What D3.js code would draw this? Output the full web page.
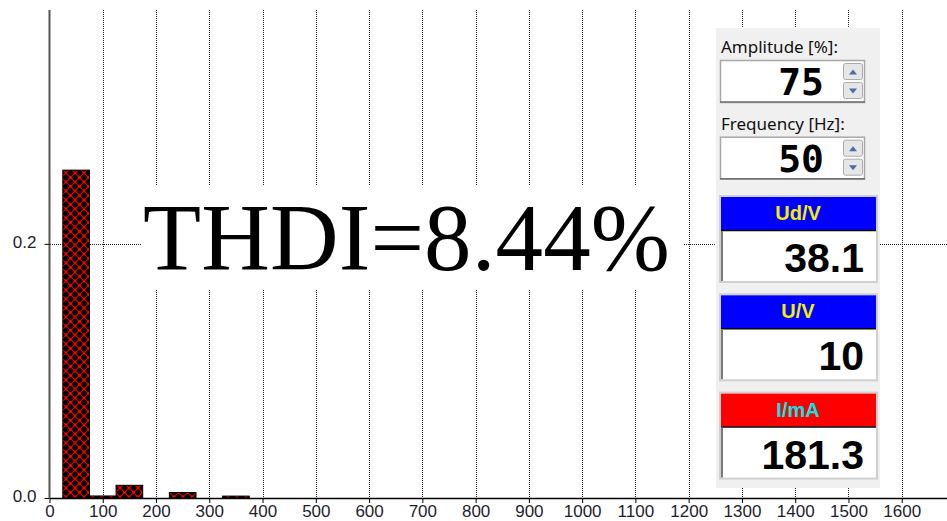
<!DOCTYPE html>
<html>
<head>
<meta charset="utf-8">
<script src="https://cdn.jsdelivr.net/npm/d3@7"></script>
<style>
  body { margin: 0; background: #fff; }
  svg { display: block; }
  .grid line { stroke: #222; stroke-dasharray: 1,1; }
</style>
</head>
<body>
<div id="chart"></div>
<script>
// harmonic spectrum data
const harmonicFreq = [50, 100, 150, 200, 250, 300, 350];
const harmonicAmp = [0.258, 0.0016, 0.010, 0.0, 0.0043, 0.0, 0.0015];
const xTickValues = [0, 100, 200, 300, 400, 500, 600, 700, 800, 900, 1000, 1100, 1200, 1300, 1400, 1500, 1600];
const yTickValues = [0, 0.2];
const thdiLabel = "THDI=8.44%";

// side panel
const controlLabels = ["Amplitude [%]:", "Frequency [Hz]:"];
const controlValues = ["75", "50"];
const meterNames = ["Ud/V", "U/V", "I/mA"];
const meterValues = ["38.1", "10", "181.3"];
const meterHeadColors = ["#0000ff", "#0000ff", "#ff0000"];
const meterNameColors = ["#f0f000", "#f0f000", "#00e8e8"];

(function () {
  const svg_width = 947, svg_height = 521;
  const x0 = 49.5, yBase = 498, yTop = 10;
  const labelFont = "'Liberation Sans', Arial, sans-serif";

  const x = d3.scaleLinear().domain([0, 1685]).range([x0, svg_width]);
  const y = d3.scaleLinear().domain([0, 0.384]).range([yBase, yTop]);
  const barHalf = 25;

  const svg = d3.select("#chart").append("svg")
    .attr("width", svg_width)
    .attr("height", svg_height);

  // hatch pattern for bars
  const pat = svg.append("defs").append("pattern")
    .attr("id", "xhatch")
    .attr("patternUnits", "userSpaceOnUse")
    .attr("x", 3).attr("y", 2)
    .attr("width", 9).attr("height", 9);
  pat.append("rect").attr("width", 9).attr("height", 9).attr("fill", "#000");
  pat.append("path").attr("d", "M0,0L9,9M9,0L0,9")
    .attr("stroke", "#e00000").attr("stroke-width", 1.2);
  [[4.5, 4.5], [0, 0], [9, 0], [0, 9], [9, 9]].forEach(p => {
    pat.append("circle").attr("cx", p[0]).attr("cy", p[1]).attr("r", 1.4).attr("fill", "#ff0000");
  });

  // vertical grid
  svg.append("g").attr("class", "grid")
    .selectAll("line")
    .data(xTickValues.filter(d => d > 0))
    .enter().append("line")
    .attr("x1", d => Math.round(x(d)) + 0.5).attr("x2", d => Math.round(x(d)) + 0.5)
    .attr("y1", yTop).attr("y2", yBase);

  // horizontal grid
  svg.append("g").attr("class", "grid")
    .selectAll("line")
    .data(yTickValues.filter(d => d > 0))
    .enter().append("line")
    .attr("x1", 50).attr("x2", svg_width)
    .attr("y1", d => Math.round(y(d)) + 0.5).attr("y2", d => Math.round(y(d)) + 0.5);

  // bars
  const bars = harmonicFreq.map((f, i) => ({ f: f, v: harmonicAmp[i] })).filter(d => d.v > 0);
  svg.selectAll(".bar")
    .data(bars)
    .enter().append("rect")
    .attr("class", "bar")
    .attr("x", d => x(d.f - barHalf))
    .attr("y", d => y(d.v))
    .attr("width", d => x(d.f + barHalf) - x(d.f - barHalf))
    .attr("height", d => yBase - y(d.v))
    .attr("fill", "url(#xhatch)")
    .attr("stroke", "#000")
    .attr("stroke-width", 1);

  // THDI label with white box
  svg.append("rect")
    .attr("x", 141).attr("y", 185).attr("width", 542).attr("height", 104)
    .attr("fill", "#fff");
  svg.append("text")
    .attr("x", 143).attr("y", 270)
    .attr("textLength", 527)
    .style("font-family", "'Liberation Serif', 'Times New Roman', serif")
    .style("font-size", "95px")
    .attr("fill", "#000")
    .text(thdiLabel);

  // x axis
  const xAxis = svg.append("g")
    .attr("transform", "translate(0," + yBase + ")")
    .call(d3.axisBottom(x).tickValues(xTickValues).tickSize(5).tickSizeOuter(0).tickFormat(d3.format("d")));
  xAxis.select(".domain").attr("stroke", "#000").attr("stroke-width", 1.5);
  xAxis.selectAll(".tick line").attr("stroke", "#000");
  xAxis.selectAll("text")
    .attr("dy", null).attr("y", 19)
    .attr("fill", "#1e1e2e")
    .style("font-family", labelFont)
    .style("font-size", "17px");

  // y axis
  const yAxis = svg.append("g")
    .attr("transform", "translate(" + x0 + ",0)")
    .call(d3.axisLeft(y).tickValues(yTickValues).tickSize(5).tickSizeOuter(0).tickFormat(d3.format(".1f")));
  yAxis.select(".domain").attr("stroke", "#555").attr("stroke-width", 2)
    .attr("d", "M0," + yTop + "V" + yBase);
  yAxis.selectAll(".tick line").attr("stroke", "#000");
  yAxis.selectAll("text")
    .attr("x", -13).attr("dy", "0.2em")
    .attr("fill", "#1e1e2e")
    .style("font-family", labelFont)
    .style("font-size", "17px");

  // side panel
  const panel = svg.append("g");
  panel.append("rect")
    .attr("x", 716).attr("y", 28).attr("width", 164).attr("height", 460)
    .attr("fill", "#f0f0f0");

  controlLabels.forEach((lab, i) => {
    const oy = i * 76.7;
    panel.append("text")
      .attr("x", 721).attr("y", 53 + oy)
      .style("font-family", "'Noto Sans', 'Segoe UI', sans-serif")
      .style("font-size", "17px")
      .attr("fill", "#111")
      .text(lab);
    panel.append("rect")
      .attr("x", 720.5).attr("y", 60.5 + oy).attr("width", 144).attr("height", 42)
      .attr("fill", "#fff").attr("stroke", "#a8a8a8").attr("stroke-width", 1.5);
    panel.append("line")
      .attr("x1", 720).attr("x2", 865).attr("y1", 102 + oy).attr("y2", 102 + oy)
      .attr("stroke", "#707070").attr("stroke-width", 1.5);
    panel.append("text")
      .attr("x", 824).attr("y", 95 + oy)
      .attr("text-anchor", "end")
      .style("font-family", "'DejaVu Sans Mono', monospace")
      .style("font-weight", "bold")
      .style("font-size", "38px")
      .attr("fill", "#000")
      .text(controlValues[i]);
    // spin buttons
    [[63, "M-4,3L4,3L0,-2Z"], [82, "M-4,-2L4,-2L0,3Z"]].forEach(b => {
      panel.append("rect")
        .attr("x", 843.5).attr("y", b[0] + oy + 0.5).attr("width", 19).attr("height", 16)
        .attr("rx", 2)
        .attr("fill", "#e6e6e6").attr("stroke", "#ababab");
      panel.append("path")
        .attr("transform", "translate(853," + (b[0] + oy + 8.5) + ")")
        .attr("d", b[1]).attr("fill", "#4a6aa8");
    });
  });

  meterNames.forEach((name, i) => {
    const oy = i * 98.3;
    panel.append("rect")
      .attr("x", 720).attr("y", 196 + oy).attr("width", 157).attr("height", 86)
      .attr("fill", "#fff").attr("stroke", "#cfcfcf").attr("stroke-width", 2);
    panel.append("rect")
      .attr("x", 721).attr("y", 197 + oy).attr("width", 155).attr("height", 33)
      .attr("fill", meterHeadColors[i]);
    panel.append("line")
      .attr("x1", 721).attr("x2", 876).attr("y1", 230.5 + oy).attr("y2", 230.5 + oy)
      .attr("stroke", "#000").attr("stroke-width", 1.5);
    panel.append("line")
      .attr("x1", 722).attr("x2", 722).attr("y1", 231 + oy).attr("y2", 281 + oy)
      .attr("stroke", "#7a7a7a").attr("stroke-width", 2);
    panel.append("text")
      .attr("x", 798).attr("y", 220 + oy)
      .attr("text-anchor", "middle")
      .style("font-family", labelFont)
      .style("font-weight", "bold")
      .style("font-size", "20px")
      .attr("fill", meterNameColors[i])
      .text(name);
    panel.append("text")
      .attr("x", 864).attr("y", 272 + oy)
      .attr("text-anchor", "end")
      .style("font-family", labelFont)
      .style("font-weight", "bold")
      .style("font-size", "41px")
      .attr("fill", "#000")
      .text(meterValues[i]);
  });
})();
</script>
</body>
</html>
